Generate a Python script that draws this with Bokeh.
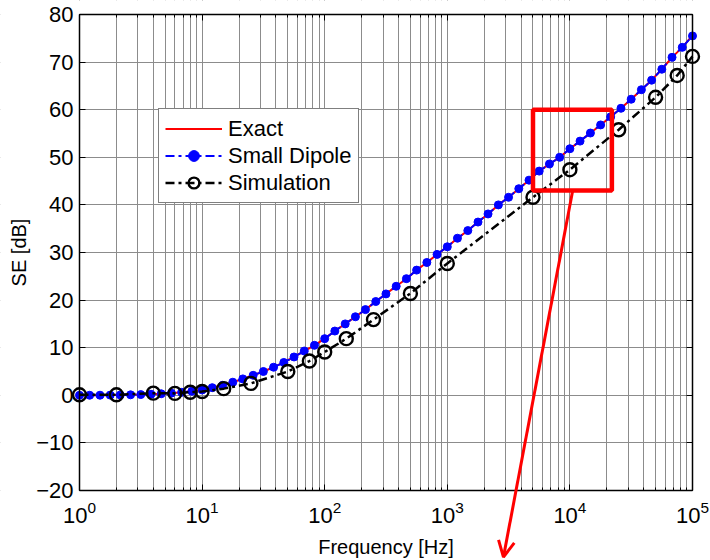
from bokeh.plotting import figure
from bokeh.models import (LogAxis, LinearAxis, Range1d, FixedTicker, LogTicker,
                          Legend, LegendItem, BoxAnnotation, Arrow, OpenHead, LogScale, Grid)
from bokeh.embed import file_html
from bokeh.resources import INLINE

# ---------------- data ----------------
freq = [1.0, 1.21, 1.47, 1.78, 2.15, 2.61, 3.16, 3.83, 4.64, 5.62, 6.81, 8.25,
        10.0, 12.1, 14.7, 17.8, 21.5, 26.1, 31.6, 38.3, 46.4, 56.2, 68.1, 82.5,
        100.0, 121, 147, 178, 215, 261, 316, 383, 464, 562, 681, 825,
        1000, 1210, 1470, 1780, 2150, 2610, 3160, 3830, 4640, 5620, 6810, 8250,
        10000, 12100, 14700, 17800, 21500, 26100, 31600, 38300, 46400, 56200, 68100, 82500,
        100000]
exact_se = [0.00, 0.01, 0.02, 0.04, 0.06, 0.10, 0.15, 0.22, 0.32, 0.45, 0.62, 0.85,
            1.12, 1.6, 2.1, 2.75, 3.45, 4.2, 5.0, 5.9, 6.9, 8.05, 9.3, 10.5,
            11.9, 13.5, 15.0, 16.5, 18.0, 19.7, 21.3, 22.9, 24.5, 26.3, 27.9, 29.6,
            31.2, 33.0, 34.6, 36.4, 38.1, 40.0, 41.6, 43.4, 45.2, 47.1, 48.6, 50.0,
            51.8, 53.4, 55.1, 56.8, 58.5, 60.3, 62.2, 64.2, 66.2, 68.5, 71.0, 73.1,
            75.6]
dipole_se = [0.00, 0.01, 0.02, 0.04, 0.06, 0.10, 0.15, 0.22, 0.32, 0.45, 0.62, 0.85,
             1.12, 1.6, 2.1, 2.75, 3.45, 4.2, 5.0, 5.9, 6.9, 8.05, 9.3, 10.5,
             11.9, 13.5, 15.0, 16.5, 18.0, 19.7, 21.3, 22.9, 24.5, 26.3, 27.9, 29.6,
             31.2, 33.0, 34.6, 36.4, 38.1, 40.0, 41.6, 43.4, 45.2, 47.1, 48.6, 50.0,
             51.8, 53.4, 55.1, 56.8, 58.5, 60.3, 62.2, 64.2, 66.2, 68.5, 71.0, 73.1,
             75.5]
sim_freq = [1, 2, 4, 6, 8, 10, 15, 25, 50, 75, 100, 150, 250, 500, 1000,
            5000, 10000, 25000, 50000, 75000, 100000]
sim_se = [0.1, 0.1, 0.45, 0.4, 0.65, 0.8, 1.4, 2.5, 5.0, 7.2, 9.1, 11.9, 15.9, 21.4, 27.7,
          41.6, 47.4, 55.8, 62.6, 67.2, 71.2]
y_ticks = [-20, -10, 0, 10, 20, 30, 40, 50, 60, 70, 80]

# zoom box (annotation) and arrow, in data units
zoom_f = [5000, 22000]
zoom_se = [43, 60]
arrow_start = (10500, 42.8)
arrow_end = (2870, -34)

FONT = "Liberation Sans"
W, H = 710, 560
BL, BR, BT = 79, 18, 14            # visual margins of the axes box (pixels)
AXIS_GAP = 70                      # pixels between the -20 line and the canvas bottom
X_MIN, X_MAX = 1, 1e5
Y_MIN, Y_MAX = -20, 80
px_unit = (H - BT - AXIS_GAP) / (Y_MAX - Y_MIN)
px_dec = (W - BL - BR) / 5.0
# the frame covers the whole canvas so the arrow and edge labels are not cut;
# the four axes are drawn at fixed locations around the data box
y_lo = Y_MIN - AXIS_GAP / px_unit
y_hi = Y_MAX + BT / px_unit
x_lo = 10 ** (-BL / px_dec)
x_hi = 10 ** (5 + BR / px_dec)

p = figure(width=W, height=H, x_axis_type=None, y_axis_type=None,
           x_range=Range1d(x_lo, x_hi), y_range=Range1d(y_lo, y_hi),
           output_backend="svg", toolbar_location=None,
           min_border_left=0, min_border_right=0, min_border_top=0, min_border_bottom=0)
p.x_scale = LogScale()
p.background_fill_color = "white"
p.border_fill_color = "white"
p.outline_line_color = None

xt = LogTicker(num_minor_ticks=10)
yt = FixedTicker(ticks=y_ticks, minor_ticks=[])

xb = LogAxis(ticker=xt, axis_label="Frequency [Hz]", fixed_location=Y_MIN, bounds=(X_MIN, X_MAX))
yl = LinearAxis(ticker=yt, axis_label="SE [dB]", fixed_location=X_MIN, bounds=(Y_MIN, Y_MAX))
xtop = LogAxis(ticker=xt, fixed_location=Y_MAX, bounds=(X_MIN, X_MAX))
yr = LinearAxis(ticker=yt, fixed_location=X_MAX, bounds=(Y_MIN, Y_MAX))
for ax in (xb, yl, xtop, yr):
    ax.major_tick_in = 6
    ax.major_tick_out = 0
    ax.minor_tick_in = 3
    ax.minor_tick_out = 0
    ax.axis_line_color = "black"
    ax.axis_line_width = 1.5
    ax.major_tick_line_color = "black"
    ax.minor_tick_line_color = "black"
    ax.major_label_text_font = FONT
    ax.major_label_text_font_size = "22px"
    ax.major_label_text_color = "black"
    ax.axis_label_text_font = FONT
    ax.axis_label_text_font_size = "20px"
    ax.axis_label_text_font_style = "normal"
    ax.axis_label_text_color = "black"
for ax in (xtop, yr):
    ax.major_label_text_font_size = "1px"
    ax.major_label_text_alpha = 0
    ax.major_label_standoff = 0
yl.minor_tick_line_color = None
yr.minor_tick_line_color = None
xb.major_label_standoff = 10
xb.axis_label_standoff = 10
yl.major_label_standoff = 6
yl.axis_label_standoff = 3
p.add_layout(xb, "below")
p.add_layout(yl, "left")
p.add_layout(xtop, "above")
p.add_layout(yr, "right")

gx = Grid(dimension=0, ticker=xt, grid_line_color="#8c8c8c", grid_line_width=1,
          minor_grid_line_color="#8c8c8c", minor_grid_line_width=1, level="image")
gy = Grid(dimension=1, ticker=yt, grid_line_color="#8c8c8c", grid_line_width=1, level="image")
p.add_layout(gx)
p.add_layout(gy)
# white bands outside the data box hide the grid there
for kw in (dict(top=Y_MIN), dict(bottom=Y_MAX), dict(right=X_MIN), dict(left=X_MAX)):
    p.add_layout(BoxAnnotation(fill_color="white", fill_alpha=1.0, line_color=None,
                               level="underlay", **kw))

r_exact = p.line(freq, exact_se, line_color="red", line_width=2)
r_dip_line = p.line(freq, dipole_se, line_color="blue", line_width=2, line_dash="9 4 3 4")
r_dip_mark = p.scatter(freq, dipole_se, marker="circle", size=8, fill_color="blue",
                       line_color="blue")
r_sim_line = p.line(sim_freq, sim_se, line_color="black", line_width=2.5, line_dash="9 4 3 4")
r_sim_mark = p.scatter(sim_freq, sim_se, marker="circle", size=13, fill_color=None,
                       line_color="black", line_width=2.4)

box = BoxAnnotation(left=zoom_f[0], right=zoom_f[1], bottom=zoom_se[0], top=zoom_se[1],
                    fill_color=None, fill_alpha=0, line_color="red", line_alpha=1.0,
                    line_width=4.5)
p.add_layout(box)
arr = Arrow(x_start=arrow_start[0], y_start=arrow_start[1], x_end=arrow_end[0], y_end=arrow_end[1],
            line_color="red", line_width=3, level="overlay",
            end=OpenHead(line_color="red", line_width=3, size=16))
p.add_layout(arr)

legend = Legend(items=[
    LegendItem(label="Exact", renderers=[r_exact]),
    LegendItem(label="Small Dipole", renderers=[r_dip_line, r_dip_mark]),
    LegendItem(label="Simulation", renderers=[r_sim_line, r_sim_mark]),
], location=(BL + 79, 287 + AXIS_GAP))
legend.label_text_font = FONT
legend.label_text_font_size = "22px"
legend.label_text_color = "black"
legend.border_line_color = "black"
legend.border_line_width = 1.5
legend.background_fill_color = "white"
legend.background_fill_alpha = 1
legend.glyph_width = 57
legend.glyph_height = 27
legend.label_height = 27
legend.label_standoff = 6
legend.spacing = 0
legend.padding = 6
legend.margin = 0
legend.label_text_baseline = "middle"
p.add_layout(legend, "center")

open("out.html", "w").write(file_html(p, INLINE))
